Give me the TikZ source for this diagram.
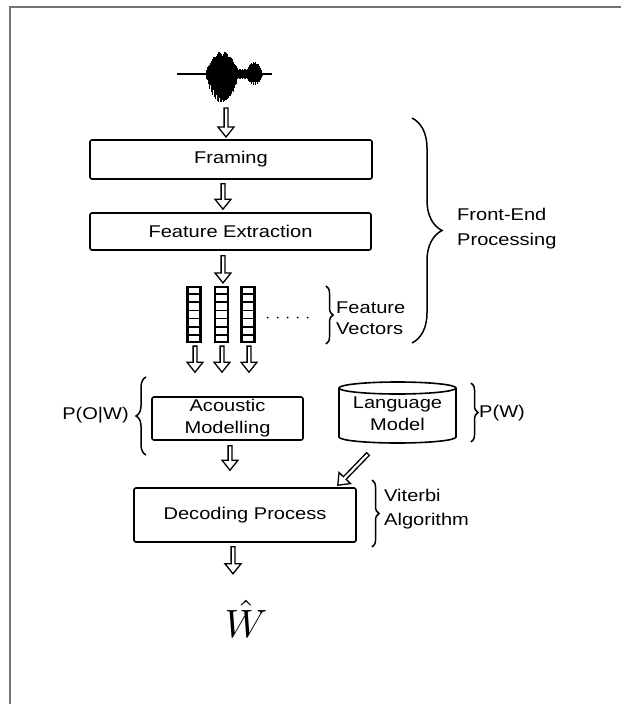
\documentclass[tikz,border=0pt]{standalone}
\usepackage{fontspec}
\setmainfont{Liberation Sans}[FakeStretch=1.18]
\usetikzlibrary{calc,decorations.pathreplacing}

\newcommand\lbl{\fontsize{17}{22}\selectfont}

% hollow block arrow from #2 to #3 (tip), named #1
\newcommand\blockarrow[3]{%
  \coordinate (#1-s) at #2;
  \coordinate (#1-t) at #3;
  \coordinate (#1-h) at ($(#1-t)!10pt!(#1-s)$);
  \draw[harrow] ($(#1-s)!1.9pt!90:(#1-t)$) -- ($(#1-h)!1.9pt!90:(#1-t)$)
     -- ($(#1-h)!8pt!90:(#1-t)$) -- (#1-t)
     -- ($(#1-h)!8pt!-90:(#1-t)$) -- ($(#1-h)!1.9pt!-90:(#1-t)$)
     -- ($(#1-s)!1.9pt!-90:(#1-t)$) -- cycle;}

\tikzset{
  harrow/.style={draw=black, fill=white, line width=1.3pt, line join=miter},
  box/.style={draw, line width=1.6pt, rounded corners=2pt, align=center,
              inner sep=0pt, font=\lbl},
  txt/.style={align=left, inner sep=0pt, font=\lbl},
  curly/.style={decorate, line width=1.5pt,
                decoration={brace, amplitude=#1}},
  frameline/.style={draw=black!55, line width=2pt},
  cell/.style={draw, line width=2.2pt, minimum width=13pt, minimum height=55pt,
               inner sep=0pt},
  wave/.style={line width=0.8pt},
}

\begin{document}
\begin{tikzpicture}[x=1pt,y=-1pt]
\useasboundingbox (0,0) rectangle (621,704);

% page frame
\draw[frameline] (621,7) -- (10,7) -- (10,704);

% speech waveform
\coordinate (wave) at (224,74);
\draw[line width=1.6pt] (177,74) -- (272,74);
\foreach \i in {0,...,64} {
  \pgfmathsetmacro\xx{206+\i*0.5}
  \pgfmathsetmacro\s{sin(\i/64*180)^0.7}
  \pgfmathsetmacro\up{1.5+21*\s*(0.35+0.65*abs(sin(\i*97)))}
  \pgfmathsetmacro\dn{1.5+28*\s*(0.3+0.7*abs(sin(\i*61+20)))}
  \draw[wave] (\xx,74-\up) -- (\xx,74+\dn);
}
\foreach \i in {0,...,16} {
  \pgfmathsetmacro\xx{238+\i*0.5}
  \pgfmathsetmacro\up{1+4*abs(sin(\i*53))}
  \draw[wave] (\xx,74-\up) -- (\xx,74+\up);
}
\foreach \i in {0,...,32} {
  \pgfmathsetmacro\xx{246+\i*0.5}
  \pgfmathsetmacro\s{sin(\i/32*180)^0.6}
  \pgfmathsetmacro\up{1.5+10.5*\s*(0.5+0.5*abs(sin(\i*71)))}
  \pgfmathsetmacro\dn{1.5+9.5*\s*(0.5+0.5*abs(sin(\i*43+10)))}
  \draw[wave] (\xx,74-\up) -- (\xx,74+\dn);
}

% processing blocks
\node[box, minimum width=282pt, minimum height=39pt] (framing) at (231,159.5) {Framing};
\node[box, minimum width=281pt, minimum height=37pt] (fe) at (230.5,231.5) {Feature Extraction};
\node[box, minimum width=151pt, minimum height=43pt] (am) at (227.5,418.5) {Acoustic\\Modelling};
\node[box, minimum width=222pt, minimum height=54pt] (dec) at (245,515) {Decoding Process};

% language model cylinder
\draw[line width=1.6pt] (339,388) -- (339,437) arc (180:360:58.5pt and 6pt) -- (456,388);
\draw[line width=1.6pt] (397.5,388) ellipse [x radius=58.5pt, y radius=6pt];
\node[txt, align=center] (lm) at (397.5,414) {Language\\Model};

% feature vectors
\foreach \n/\x in {1/194, 2/221.5, 3/248} {
  \node[cell] (fv\n) at (\x,314.5) {};
  \foreach \k in {1,...,6}
    \draw[line width=1.8pt] ($(fv\n.north west)!\k/7!(fv\n.south west)$) -- ($(fv\n.north east)!\k/7!(fv\n.south east)$);
}
\foreach \d in {0,...,4}
  \fill ($(fv3.east)+(12+\d*10,3)$) circle (1pt);

% arrows
\blockarrow{a1}{(226,108)}{(226,137)}
\blockarrow{a2}{($(framing.south)+(-8,4)$)}{($(fe.north)+(-7.5,-3)$)}
\blockarrow{a3}{($(fe.south)+(-7.5,5)$)}{($(fv2.north)+(1.5,-3)$)}
\blockarrow{a4}{($(fv1.south)+(1,3)$)}{($(am.north)+(-32.5,-24)$)}
\blockarrow{a5}{($(fv2.south)+(0.5,3)$)}{($(am.north)+(-5.5,-24)$)}
\blockarrow{a6}{($(fv3.south)+(1,3)$)}{($(am.north)+(21.5,-24)$)}
\blockarrow{a7}{($(am.south)+(2.5,5)$)}{($(dec.north)+(-15,-17)$)}
\blockarrow{a8}{(368,454)}{($(dec.north east)+(-19,-2)$)}
\blockarrow{a9}{($(dec.south)+(-12,4)$)}{($(dec.south)+(-12,31)$)}

% result
\node[inner sep=0pt, scale=3.95, anchor=base] (what) at (246,637) {$\hat{W}$};

% braces and annotations
\draw[curly=30pt] (412,118) -- (412,343);
\node[txt, anchor=west, font=\fontsize{17}{25}\selectfont] (fep) at (457,229) {Front-End\\Processing};

\draw[curly=7pt] (326,286) -- (326,344);
\node[txt, anchor=west, font=\fontsize{17}{21}\selectfont] (fvt) at (336,318) {Feature\\Vectors};

\draw[curly=10pt] (146,455) -- (146,377);
\node[txt, anchor=east] (pow) at (129,415) {P(O|W)};

\draw[curly=7pt] (471,383) -- (471,442);
\node[txt, anchor=west] (pw) at (479,413) {P(W)};

\draw[curly=7pt] (372,480) -- (372,547);
\node[txt, anchor=west, font=\fontsize{17}{24}\selectfont] (vit) at (384,509) {Viterbi\\Algorithm};
\end{tikzpicture}
\end{document}
